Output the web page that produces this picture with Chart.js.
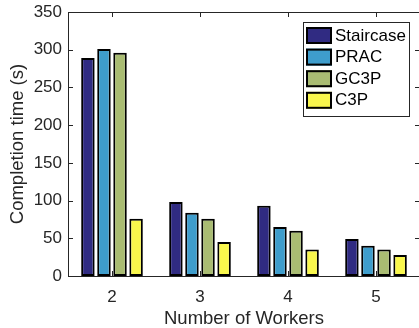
<!DOCTYPE html>
<html>
<head>
<meta charset="utf-8">
<script src="https://cdn.jsdelivr.net/npm/chart.js@4"></script>
<style>
  html, body { margin: 0; padding: 0; background: #fff; overflow: hidden; }
  #wrap { position: absolute; left: 0; top: 0; width: 421px; height: 328px; }
</style>
</head>
<body>
<div id="wrap"><canvas id="chart"></canvas></div>
<script>
const workers = ['2', '3', '4', '5'];
const staircaseTimes = [289, 98, 93, 49];
const pracTimes = [301, 84, 65, 40];
const gc3pTimes = [296, 76, 60, 35];
const c3pTimes = [76, 45, 35, 28];
const yTicks = [0, 50, 100, 150, 200, 250, 300, 350];

const seriesNames = ['Staircase', 'PRAC', 'GC3P', 'C3P'];
const seriesColors = ['#302b82', '#3e9dcc', '#a9bc72', '#f9f74c'];
const font = "'Liberation Sans', Arial, Helvetica, sans-serif";
const axisColor = '#262626';

// MATLAB-style box with inward ticks
const boxTicks = {
  id: 'boxTicks',
  afterDatasetsDraw(chart) {
    const { ctx, chartArea: a, scales: { x, y } } = chart;
    const len = 5;
    ctx.save();
    ctx.strokeStyle = axisColor;
    ctx.lineWidth = 1;
    ctx.beginPath();
    ctx.rect(a.left + 0.5, a.top + 0.5, a.right - a.left - 1, a.bottom - a.top);
    x.ticks.forEach((t, i) => {
      const px = Math.round(x.getPixelForTick(i)) + 0.5;
      ctx.moveTo(px, a.top); ctx.lineTo(px, a.top + len);
      ctx.moveTo(px, a.bottom); ctx.lineTo(px, a.bottom - len);
    });
    y.ticks.forEach((t, i) => {
      const py = Math.round(y.getPixelForTick(i)) + 0.5;
      ctx.moveTo(a.left, py); ctx.lineTo(a.left + len, py);
      ctx.moveTo(a.right, py); ctx.lineTo(a.right - len, py);
    });
    ctx.stroke();
    ctx.restore();
  }
};

// boxed legend inside the plot, top right
const boxLegend = {
  id: 'boxLegend',
  afterDraw(chart) {
    const { ctx } = chart;
    const left = 303, top = 22, w = 106, h = 94, pitch = 21.6;
    ctx.save();
    ctx.fillStyle = '#fff';
    ctx.fillRect(left, top, w, h);
    ctx.strokeStyle = axisColor;
    ctx.lineWidth = 1;
    ctx.strokeRect(left + 0.5, top + 0.5, w, h);
    ctx.font = '17px ' + font;
    ctx.textBaseline = 'middle';
    chart.data.datasets.forEach((ds, i) => {
      const sy = top + 5 + i * pitch;
      ctx.fillStyle = ds.backgroundColor;
      ctx.fillRect(left + 3, sy, 26, 17);
      ctx.strokeStyle = '#000';
      ctx.lineWidth = 2;
      ctx.strokeRect(left + 4, sy + 1, 24, 15);
      ctx.fillStyle = '#000';
      ctx.fillText(ds.label, left + 32, sy + 9);
    });
    ctx.restore();
  }
};

const series = [staircaseTimes, pracTimes, gc3pTimes, c3pTimes];

new Chart(document.getElementById('chart'), {
  type: 'bar',
  data: {
    labels: workers,
    datasets: series.map((vals, i) => ({
      label: seriesNames[i],
      data: vals,
      backgroundColor: seriesColors[i],
      borderColor: '#000',
      borderWidth: 2,
      borderSkipped: false,
      categoryPercentage: 0.73,
      barPercentage: 0.84
    }))
  },
  options: {
    responsive: true,
    maintainAspectRatio: false,
    animation: false,
    layout: { padding: { top: 12, right: 1, left: 0, bottom: 0 } },
    plugins: {
      legend: { display: false },
      tooltip: { enabled: false }
    },
    scales: {
      x: {
        grid: { display: false, drawTicks: false },
        border: { display: false },
        ticks: { color: axisColor, padding: 11, font: { family: font, size: 17 } },
        title: {
          display: true, text: 'Number of Workers', color: axisColor,
          padding: { top: 0, bottom: 0 }, font: { family: font, size: 18.5, lineHeight: 1 }
        },
        afterFit(s) { s.height = 52; s.paddingLeft = 0; s.paddingRight = 0; }
      },
      y: {
        min: 0,
        max: 350,
        afterBuildTicks(s) { s.ticks = yTicks.map(v => ({ value: v })); },
        grid: { display: false, drawTicks: false },
        border: { display: false },
        ticks: { color: axisColor, padding: 6, font: { family: font, size: 17 } },
        title: {
          display: true, text: 'Completion time (s)', color: axisColor,
          padding: { top: 9, bottom: 0 }, font: { family: font, size: 18.5, lineHeight: 1 }
        },
        afterFit(s) { s.width = 68; s.paddingTop = 0; s.paddingBottom = 0; }
      }
    }
  },
  plugins: [boxTicks, boxLegend]
});
</script>
</body>
</html>
